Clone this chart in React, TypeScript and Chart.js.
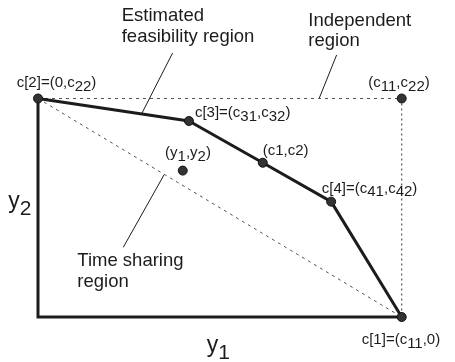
import React, { useEffect, useRef } from "react";
import { Chart, registerables } from "chart.js";

Chart.register(...registerables);

// ---- data (normalised: y1 axis 0..c11 = 0..1, y2 axis 0..c22 = 0..1) ----
const boundaryX = [0, 0.415, 0.618, 0.806, 1];
const boundaryY = [1, 0.897, 0.706, 0.528, 0];
const boundaryNames = ["c[2]=(0,c_{22})", "c[3]=(c_{31},c_{32})", "(c1,c2)", "c[4]=(c_{41},c_{42})", "c[1]=(c_{11},0)"];

const cornerX = [1];
const cornerY = [1];
const cornerNames = ["(c_{11},c_{22})"];

const operatingX = [0.398];
const operatingY = [0.67];
const operatingNames = ["(y_{1},y_{2})"];

const axesBoxX = [0, 0, 1];
const axesBoxY = [1, 0, 0];

const leaderFromX = [0.37, 0.821, 0.2345];
const leaderFromY = [1.208, 1.199, 0.319];
const leaderToX = [0.285, 0.773, 0.347];
const leaderToY = [0.93, 1.0, 0.652];
const regionLabels = [["Estimated", "feasibility region"], ["Independent", "region"], ["Time sharing", "region"]];

const axisTitles = ["y_{1}", "y_{2}"];

// ---- layout (pixel) ----
const FONT = "'Liberation Sans', Arial, Helvetica, sans-serif";
const INK = "#1c1c1c";
const pointLabelOffsets: [number, number][] = [
  [-21.3, -11.3],
  [6, -3.7],
  [0, -7.7],
  [-9.3, -9],
  [-40, 27.3],
  [-33.4, -11.2],
  [-17.7, -13.2],
];
const regionLabelPos: [number, number, number][] = [
  [121.7, 20.7, 21],
  [308.3, 26, 19.5],
  [77.3, 266, 20.5],
];
const axisTitlePos: [number, number][] = [
  [206.7, 352],
  [8.3, 208.3],
];

function parseSegments(s: string) {
  const out: { t: string; sub: boolean }[] = [];
  const re = /_\{([^}]*)\}/g;
  let last = 0;
  let m: RegExpExecArray | null;
  while ((m = re.exec(s))) {
    if (m.index > last) out.push({ t: s.slice(last, m.index), sub: false });
    out.push({ t: m[1], sub: true });
    last = m.index + m[0].length;
  }
  if (last < s.length) out.push({ t: s.slice(last), sub: false });
  return out;
}

function drawRich(ctx: CanvasRenderingContext2D, s: string, x: number, y: number, size: number, subSize: number, subDy: number) {
  let cx = x;
  for (const seg of parseSegments(s)) {
    ctx.font = `${seg.sub ? subSize : size}px ${FONT}`;
    ctx.fillText(seg.t, cx, seg.sub ? y + subDy : y);
    cx += ctx.measureText(seg.t).width;
  }
}

const toPts = (xs: number[], ys: number[]) => xs.map((x, i) => ({ x, y: ys[i] }));

const textPlugin = {
  id: "diagramText",
  afterDatasetsDraw(chart: any) {
    const ctx: CanvasRenderingContext2D = chart.ctx;
    const sx = chart.scales.x;
    const sy = chart.scales.y;
    ctx.save();
    ctx.fillStyle = INK;
    ctx.textBaseline = "alphabetic";
    ctx.textAlign = "left";
    const allX = [...boundaryX, ...cornerX, ...operatingX];
    const allY = [...boundaryY, ...cornerY, ...operatingY];
    const allN = [...boundaryNames, ...cornerNames, ...operatingNames];
    allN.forEach((name, i) => {
      const px = sx.getPixelForValue(allX[i]) + pointLabelOffsets[i][0];
      const py = sy.getPixelForValue(allY[i]) + pointLabelOffsets[i][1];
      drawRich(ctx, name, px, py, 15, 15, 3.5);
    });
    regionLabels.forEach((lines, i) => {
      const [x, y, lh] = regionLabelPos[i];
      lines.forEach((ln, j) => {
        ctx.font = `18.5px ${FONT}`;
        ctx.fillText(ln, x, y + j * lh);
      });
    });
    axisTitles.forEach((t, i) => {
      const [x, y] = axisTitlePos[i];
      drawRich(ctx, t, x, y, 23, 21, 6.5);
    });
    ctx.restore();
  },
};

export default function App() {
  const ref = useRef<HTMLCanvasElement>(null);
  useEffect(() => {
    if (!ref.current) return;
    const lineBase = { showLine: true, pointRadius: 0, clip: false as any, fill: false, tension: 0 };
    const leaders = leaderFromX.map((_, i) => ({
      ...lineBase,
      data: [
        { x: leaderFromX[i], y: leaderFromY[i] },
        { x: leaderToX[i], y: leaderToY[i] },
      ],
      borderColor: INK,
      borderWidth: 1,
      order: 5,
    }));
    const chart = new Chart(ref.current, {
      type: "scatter",
      data: {
        datasets: [
          {
            data: toPts([...boundaryX, ...cornerX, ...operatingX], [...boundaryY, ...cornerY, ...operatingY]),
            showLine: false,
            pointRadius: 4.5,
            pointBackgroundColor: "#333",
            pointBorderColor: "#111",
            pointBorderWidth: 1,
            clip: false as any,
            order: 0,
          },
          {
            ...lineBase,
            data: toPts(boundaryX, boundaryY),
            borderColor: INK,
            borderWidth: 3,
            borderJoinStyle: "round",
            order: 1,
          },
          {
            ...lineBase,
            data: toPts(axesBoxX, axesBoxY),
            borderColor: INK,
            borderWidth: 3,
            borderJoinStyle: "miter",
            order: 2,
          },
          {
            ...lineBase,
            data: [
              { x: axesBoxX[0], y: axesBoxY[0] },
              { x: cornerX[0], y: cornerY[0] },
            ],
            borderColor: "#555",
            borderWidth: 1,
            borderDash: [3, 4],
            order: 3,
          },
          {
            ...lineBase,
            data: [
              { x: cornerX[0], y: cornerY[0] },
              { x: boundaryX[4], y: boundaryY[4] },
            ],
            borderColor: "#555",
            borderWidth: 1.2,
            borderDash: [2, 3],
            order: 3,
          },
          {
            ...lineBase,
            data: [
              { x: boundaryX[0], y: boundaryY[0] },
              { x: boundaryX[4], y: boundaryY[4] },
            ],
            borderColor: "#555",
            borderWidth: 1,
            borderDash: [3, 4],
            order: 4,
          },
          ...leaders,
        ] as any,
      },
      options: {
        animation: false,
        responsive: false,
        events: [],
        layout: { autoPadding: false, padding: { left: 38, right: 53.3, top: 98.5, bottom: 45 } },
        scales: {
          x: { type: "linear", min: 0, max: 1, display: false },
          y: { type: "linear", min: 0, max: 1, display: false },
        },
        plugins: { legend: { display: false }, tooltip: { enabled: false } },
      } as any,
      plugins: [textPlugin],
    });
    return () => chart.destroy();
  }, []);
  return (
    <div style={{ position: "fixed", left: 0, top: 0, width: 455, height: 362, background: "#fff" }}>
      <canvas ref={ref} width={455} height={362} />
    </div>
  );
}
